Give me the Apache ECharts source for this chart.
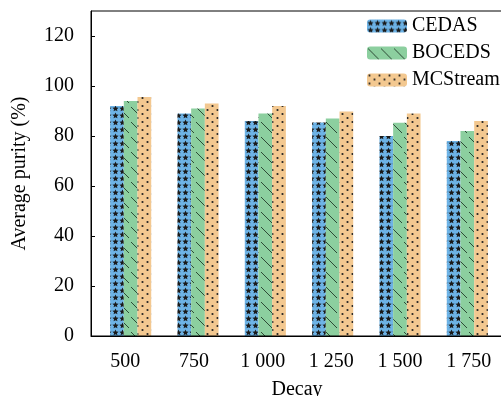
<!DOCTYPE html>
<html>
<head>
<meta charset="utf-8">
<script src="https://cdn.jsdelivr.net/npm/echarts@6/dist/echarts.min.js"></script>
<style>
html,body{margin:0;padding:0;background:#fff;}
#c{width:501px;height:396px;}
</style>
</head>
<body>
<div id="c"></div>
<script>
var categories = ['500', '750', '1 000', '1 250', '1 500', '1 750'];
var cedas = [92, 89, 86, 85.4, 80, 78];
var boceds = [94, 91, 89, 87, 85.3, 82];
var mcstream = [95.6, 93, 92, 89.8, 89, 86];
var yTicks = [0, 20, 40, 60, 80, 100, 120];

var FONT = '"Liberation Serif", "Times New Roman", serif';

function mk(w, h, bg, draw) {
  var c = document.createElement('canvas');
  c.width = w; c.height = h;
  var g = c.getContext('2d');
  g.fillStyle = bg; g.fillRect(0, 0, w, h);
  draw(g);
  return c;
}
function star(g, cx, cy, R, r) {
  g.beginPath();
  for (var i = 0; i < 10; i++) {
    var rad = i % 2 ? r : R;
    var a = -Math.PI / 2 + i * Math.PI / 5;
    var x = cx + rad * Math.cos(a), y = cy + rad * Math.sin(a);
    if (i) g.lineTo(x, y); else g.moveTo(x, y);
  }
  g.closePath(); g.fill();
}
var starTile = mk(7, 7, '#6db3e6', function (g) {
  g.fillStyle = '#1a1a1a';
  star(g, 3.5, 3.7, 3.3, 1.5);
});
var lineTile = mk(13, 15, '#8ccf9f', function (g) {
  g.strokeStyle = '#2d4a36'; g.lineWidth = 1;
  g.beginPath(); g.moveTo(1, 2); g.lineTo(12, 13); g.stroke();
});
var dotTile = mk(10, 8, '#f3c890', function (g) {
  g.fillStyle = '#222';
  g.beginPath(); g.arc(2.5, 2, 1.1, 0, Math.PI * 2); g.fill();
  g.beginPath(); g.arc(7.5, 6, 1.1, 0, Math.PI * 2); g.fill();
});

var chart = echarts.init(document.getElementById('c'), null, {renderer: 'canvas'});
function ser(name, data, tile) {
  return {
    name: name, type: 'bar', data: data, barWidth: 13.7, barGap: '0%',
    xAxisIndex: 1, yAxisIndex: 1,
    itemStyle: {color: {image: tile, repeat: 'repeat'}},
    emphasis: {disabled: true}
  };
}
var txt = {fontFamily: FONT, fontSize: 20, color: '#000'};
chart.setOption({
  animation: false,
  grid: [
    {left: 91, right: -2, top: 11, bottom: 60, show: true, borderColor: '#000', borderWidth: 1, z: 3,
      containLabel: false, outerBoundsMode: 'none'},
    {left: 97, right: 0, top: 11, bottom: 60, containLabel: false, outerBoundsMode: 'none'}
  ],
  legend: {
    orient: 'vertical', left: 367, top: 16, padding: 0, itemWidth: 40, itemHeight: 13, itemGap: 7,
    textStyle: txt,
    data: ['CEDAS', 'BOCEDS', 'MCStream']
  },
  xAxis: [{
    type: 'category', data: categories, gridIndex: 0,
    name: 'Decay', nameLocation: 'middle', nameGap: 44,
    nameTextStyle: txt,
    axisLine: {lineStyle: {color: '#000', width: 1}},
    axisTick: {inside: true, length: 4, alignWithLabel: true, lineStyle: {color: '#000'}},
    axisLabel: {fontFamily: FONT, fontSize: 20, color: '#000', margin: 16}
  }, {
    type: 'category', data: categories, gridIndex: 1, show: false
  }],
  yAxis: [{
    type: 'value', min: 0, max: 130, interval: 20, gridIndex: 0,
    name: 'Average purity (%)', nameLocation: 'middle', nameGap: 61,
    nameTextStyle: txt,
    axisLine: {show: true, lineStyle: {color: '#000', width: 1}},
    axisTick: {show: true, inside: true, length: 4, lineStyle: {color: '#000'}},
    splitLine: {show: false},
    axisLabel: {fontFamily: FONT, fontSize: 20, color: '#000', margin: 17, showMaxLabel: false,
      formatter: function (v) { return yTicks.indexOf(v) >= 0 ? String(v) : ''; }}
  }, {
    type: 'value', min: 0, max: 130, interval: 20, gridIndex: 1, show: false
  }],
  series: [ser('CEDAS', cedas, starTile), ser('BOCEDS', boceds, lineTile), ser('MCStream', mcstream, dotTile)]
});
</script>
</body>
</html>
